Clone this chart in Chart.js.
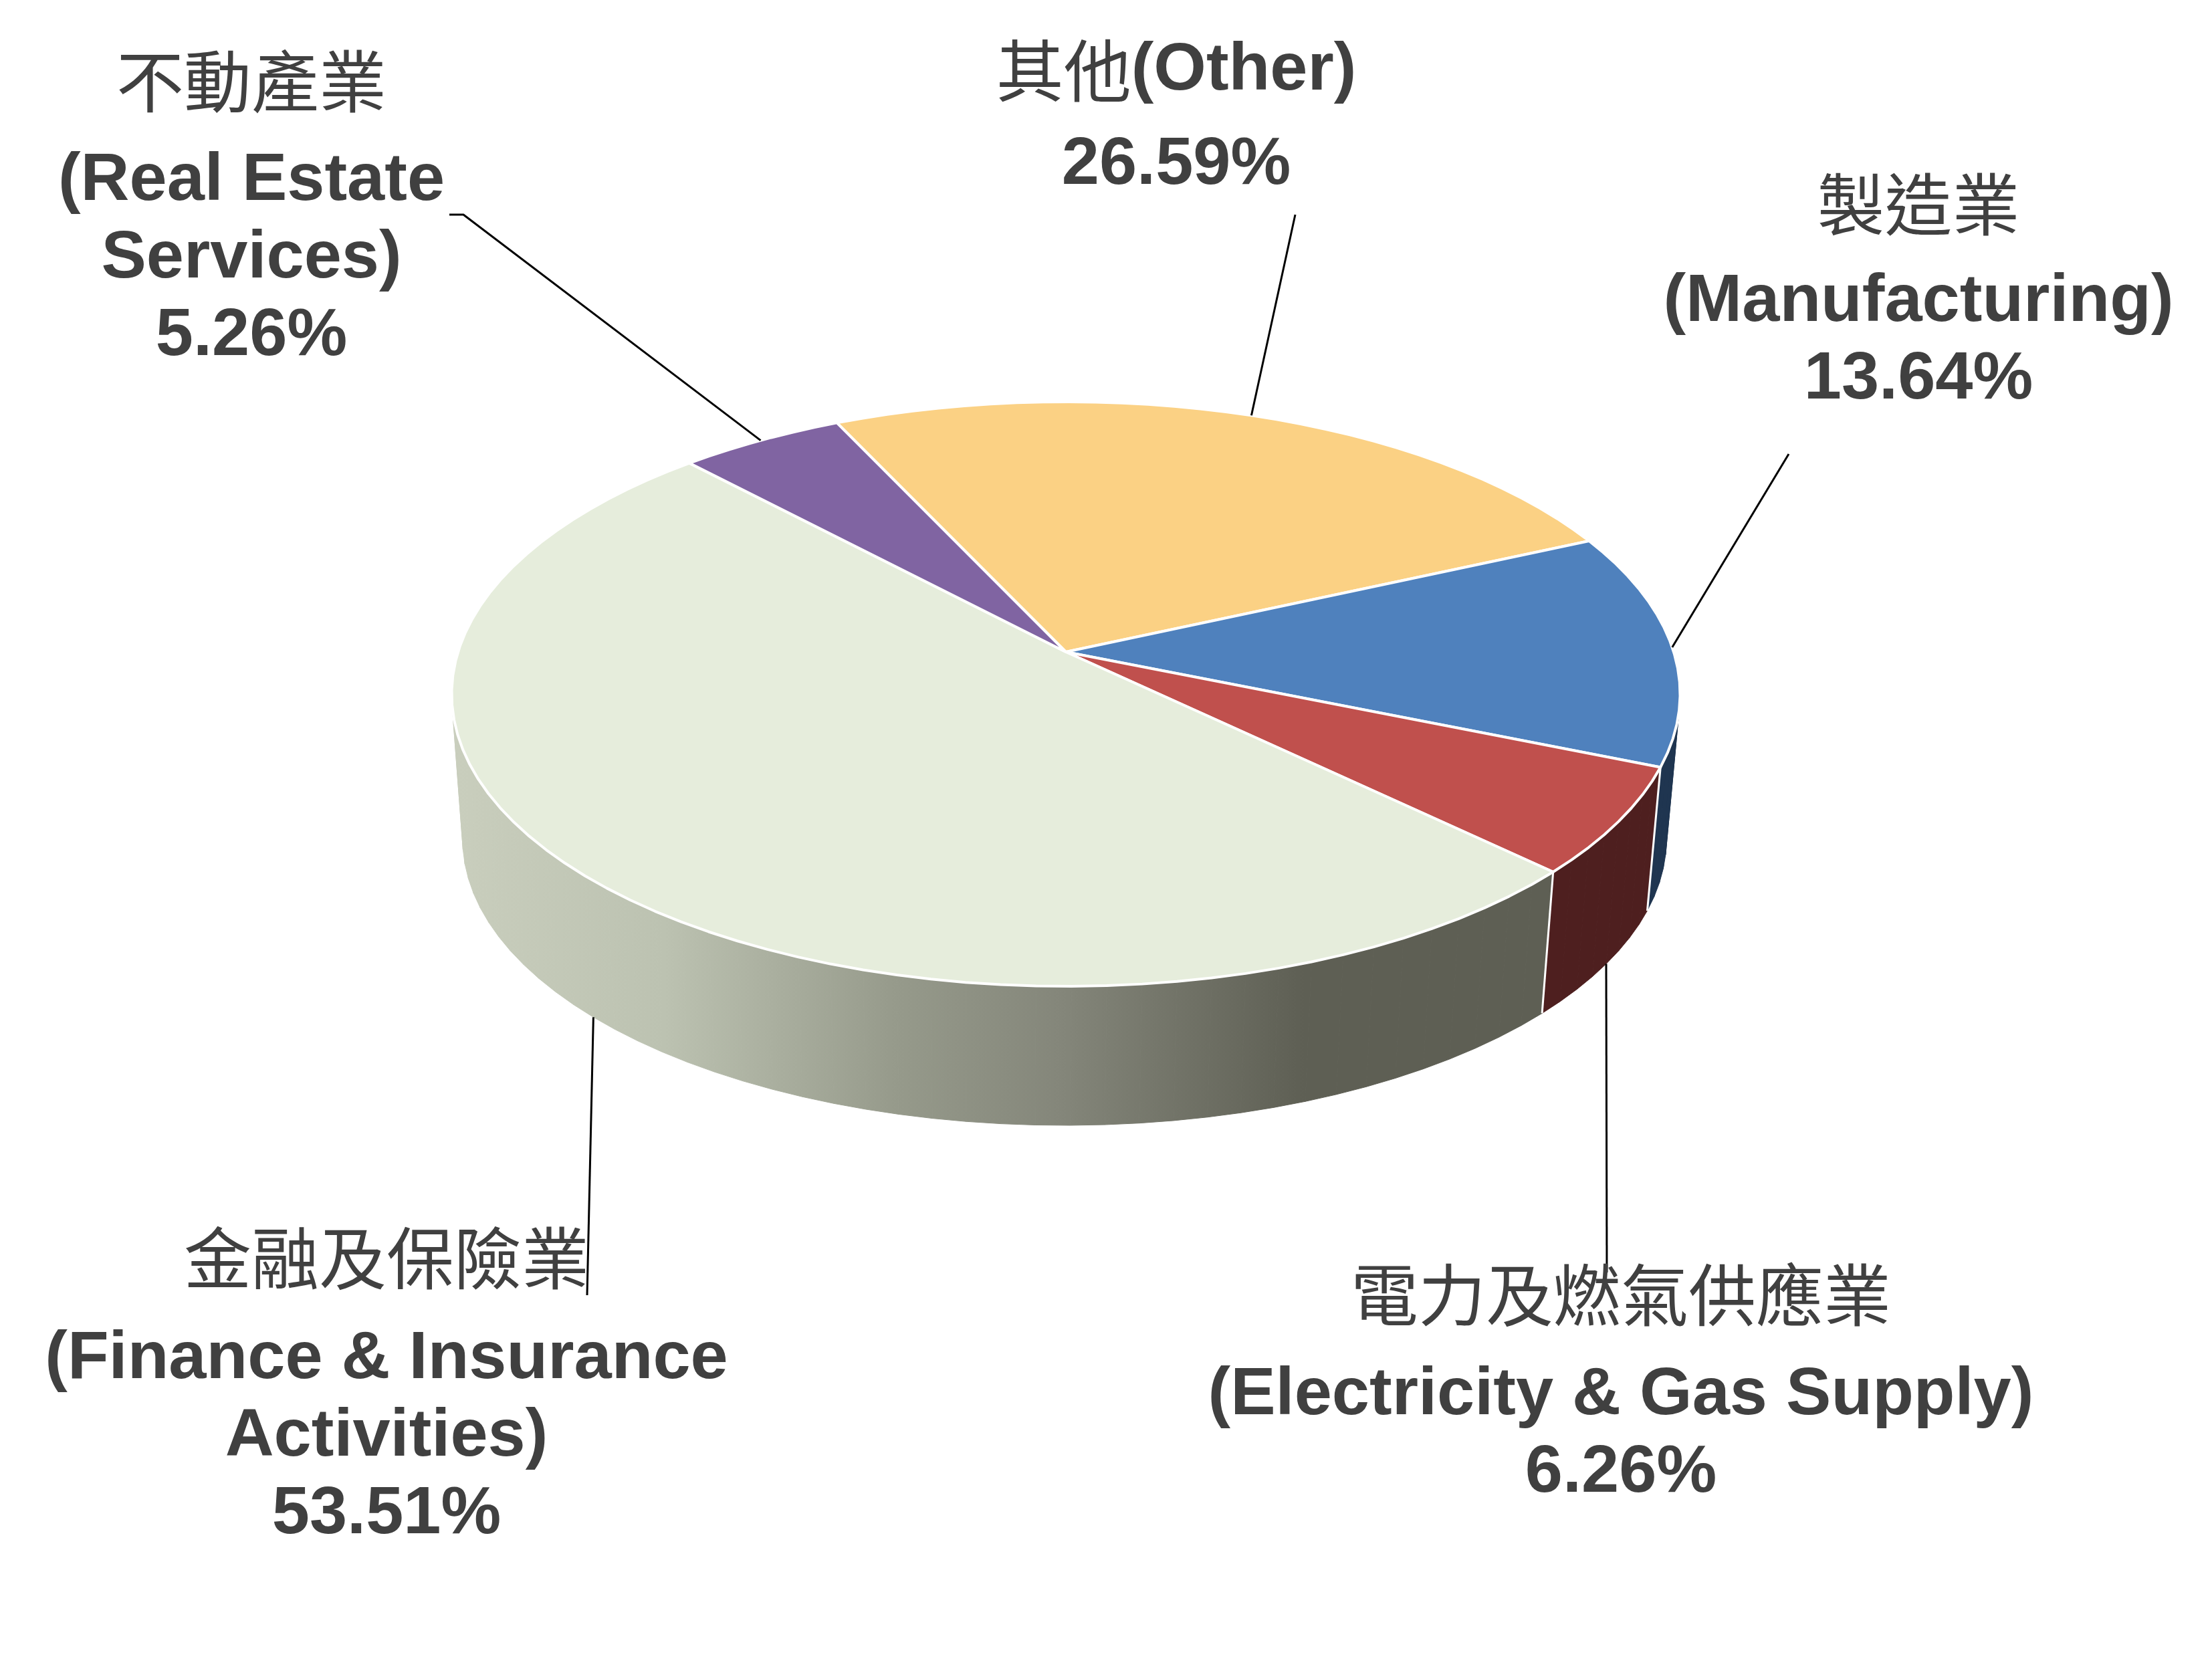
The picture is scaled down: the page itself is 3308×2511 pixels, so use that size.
<!DOCTYPE html>
<html>
<head>
<meta charset="utf-8">
<title>Pie</title>
<script src="https://cdn.jsdelivr.net/npm/chart.js@4"></script>
<style>
  html, body { margin: 0; padding: 0; background: #fff; }
  canvas { display: block; }
</style>
</head>
<body>
<canvas id="myChart" width="3308" height="2511"></canvas>
<script>
// values as printed on the chart (they add up to 105.26, the pie is drawn from that total)
const categories = ["其他(Other)", "製造業(Manufacturing)", "電力及燃氣供應業(Electricity & Gas Supply)", "金融及保險業(Finance & Insurance Activities)", "不動產業(Real Estate Services)"];
const shares = [26.59, 13.64, 6.26, 53.51, 5.26];
const topColors = ["#FBD184", "#4F81BD", "#C0504D", "#E6EDDC", "#8064A2"];
const sideColors = ["#7D6942", "#1F3550", "#4E1F1F", "#5E5F54", "#40325A"];
const labelLines = [
  ["其他(Other)", "26.59%"],
  ["製造業", "(Manufacturing)", "13.64%"],
  ["電力及燃氣供應業", "(Electricity & Gas Supply)", "6.26%"],
  ["金融及保險業", "(Finance & Insurance", "Activities)", "53.51%"],
  ["不動產業", "(Real Estate", "Services)", "5.26%"],
];

// label layout: centre x and the y of each line
const labelX = [1759, 2869, 2424, 578, 376];
const labelY = [
  [106, 247],
  [306, 452, 568],
  [1937, 2087, 2203],
  [1882, 2033, 2149, 2265],
  [122, 271, 387, 503],
];
// outer end of each leader line
const leaderEnd = [
  [[1937, 321]],
  [[2675, 679]],
  [[2403, 1903]],
  [[878, 1937]],
  [[672, 321], [693, 321]],
];

const startRotation = -25.2;
const textColor = "#404040";

// perspective projection of the pie disc
const view = { x: 1594, y: 975, a: 909, b: 428, k: 0.144, bottomX: 1592, bottomScale: 0.98, bottomY: 1193 };

function project(angle, bottom) {
  const u = Math.cos(angle);
  const v = Math.sin(angle);
  const w = 1 - view.k * v;
  const s = bottom ? view.bottomScale : 1;
  return {
    x: (bottom ? view.bottomX : view.x) + (view.a * s * u) / w,
    y: (bottom ? view.bottomY : view.y) + (view.b * s * v) / w,
  };
}

function arcPoints(start, end, bottom) {
  const steps = Math.max(2, Math.ceil((end - start) / 0.05));
  const pts = [];
  for (let i = 0; i <= steps; i++) {
    pts.push(project(start + ((end - start) * i) / steps, bottom));
  }
  return pts;
}

function drawLine(ctx, text, x, y) {
  // chinese runs are regular, latin runs bold
  const runs = text.match(/[\u3400-\u9fff]+|[^\u3400-\u9fff]+/g);
  const fontOf = (run) =>
    /[\u3400-\u9fff]/.test(run) ? '101px "Noto Sans CJK TC"' : 'bold 101px "Liberation Sans"';
  let width = 0;
  runs.forEach((run) => {
    ctx.font = fontOf(run);
    width += ctx.measureText(run).width;
  });
  let cur = x - width / 2;
  runs.forEach((run) => {
    ctx.font = fontOf(run);
    ctx.fillText(run, cur, y);
    cur += ctx.measureText(run).width;
  });
}

const pie3d = {
  id: "pie3d",
  beforeDatasetsDraw(chart) {
    const ctx = chart.ctx;
    const arcs = chart.getDatasetMeta(0).data;
    const biggest = shares.indexOf(Math.max(...shares));

    ctx.save();

    // side walls, one small quad per step so the left and right edges stay filled
    arcs.forEach((arc, i) => {
      const top = arcPoints(arc.startAngle, arc.endAngle, false);
      const low = arcPoints(arc.startAngle, arc.endAngle, true);
      let fill = sideColors[i];
      if (i === biggest) {
        fill = ctx.createLinearGradient(680, 0, 2330, 0);
        fill.addColorStop(0, "#C9CEBD");
        fill.addColorStop(0.19, "#BCC2B1");
        fill.addColorStop(0.4, "#969A8B");
        fill.addColorStop(0.55, "#84867A");
        fill.addColorStop(0.77, "#5E5F54");
        fill.addColorStop(1, "#5E5F54");
      }
      ctx.fillStyle = fill;
      ctx.strokeStyle = fill;
      ctx.lineWidth = 1;
      for (let s = 0; s < top.length - 1; s++) {
        ctx.beginPath();
        ctx.moveTo(top[s].x, top[s].y);
        ctx.lineTo(top[s + 1].x, top[s + 1].y);
        ctx.lineTo(low[s + 1].x, low[s + 1].y);
        ctx.lineTo(low[s].x, low[s].y);
        ctx.closePath();
        ctx.fill();
        ctx.stroke();
      }
    });

    // white edges between front walls
    ctx.strokeStyle = "#fff";
    ctx.lineWidth = 3;
    arcs.forEach((arc) => {
      if (Math.sin(arc.startAngle) > -0.1) {
        const a = project(arc.startAngle, false);
        const b = project(arc.startAngle, true);
        ctx.beginPath();
        ctx.moveTo(a.x, a.y);
        ctx.lineTo(b.x, b.y);
        ctx.stroke();
      }
    });

    // top faces
    ctx.lineJoin = "round";
    ctx.lineWidth = 4;
    arcs.forEach((arc) => {
      ctx.beginPath();
      ctx.moveTo(view.x, view.y);
      arcPoints(arc.startAngle, arc.endAngle, false).forEach((p) => ctx.lineTo(p.x, p.y));
      ctx.closePath();
      ctx.fillStyle = arc.options.backgroundColor;
      ctx.fill();
      ctx.stroke();
    });

    // leader lines, from the middle of each slice's rim
    ctx.strokeStyle = "#000";
    ctx.lineWidth = 3;
    arcs.forEach((arc, i) => {
      const mid = (arc.startAngle + arc.endAngle) / 2;
      const p = project(mid, Math.sin(mid) > 0.2);
      ctx.beginPath();
      ctx.moveTo(p.x, p.y);
      leaderEnd[i].slice().reverse().forEach((e) => ctx.lineTo(e[0], e[1]));
      ctx.stroke();
    });

    // labels
    ctx.fillStyle = textColor;
    ctx.textAlign = "left";
    ctx.textBaseline = "middle";
    labelLines.forEach((lines, i) => {
      lines.forEach((line, j) => drawLine(ctx, line, labelX[i], labelY[i][j]));
    });

    ctx.restore();
    return false; // walls and faces are done, skip the flat arcs
  },
};

var ctx = document.getElementById("myChart").getContext("2d");
var myChart = new Chart(ctx, {
  type: "pie",
  data: {
    labels: categories,
    datasets: [{ data: shares, backgroundColor: topColors, borderColor: "#fff" }],
  },
  options: {
    responsive: false,
    animation: false,
    rotation: startRotation,
    plugins: { legend: { display: false }, tooltip: { enabled: false } },
  },
  plugins: [pie3d],
});
</script>
</body>
</html>
